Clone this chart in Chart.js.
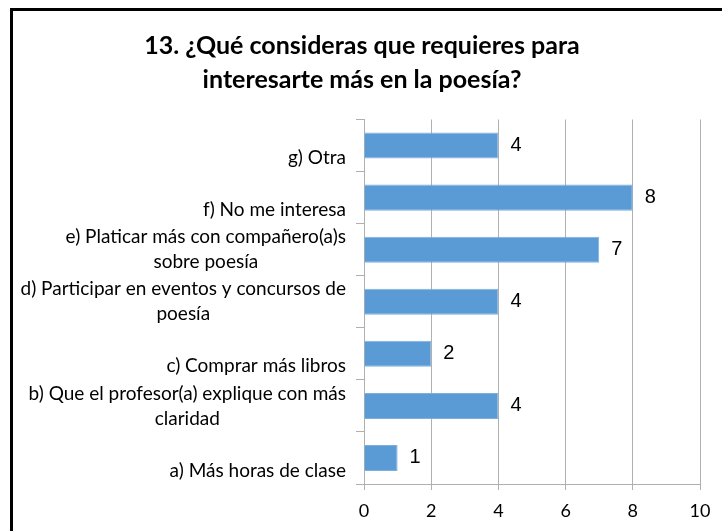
<!DOCTYPE html>
<html>
<head>
<meta charset="utf-8">
<script src="https://cdn.jsdelivr.net/npm/chart.js@4"></script>
<style>
    html, body { margin: 0; padding: 0; background: #fff; }
    #wrap { width: 722px; height: 531px; position: relative; }
</style>
</head>
<body>
<div id="wrap"><canvas id="chart" width="722" height="531"></canvas></div>
<script>
// 类别（从上到下），单行标签前加空行，让文字落在刻度下半部
const categories = [
    ['', 'g) Otra'],
    ['', 'f) No me interesa'],
    ['e) Platicar más con compañero(a)s', 'sobre poesía'],
    ['d) Participar en eventos y concursos de', 'poesía'],
    ['', 'c) Comprar más libros'],
    ['b) Que el profesor(a) explique con más', 'claridad'],
    ['', 'a) Más horas de clase']
];
const values = [4, 8, 7, 4, 2, 4, 1];
const xTicks = [0, 2, 4, 6, 8, 10];
const titleLines = ['13. ¿Qué consideras que requieres para', 'interesarte más en la poesía?'];

const LABEL_FONT = '19px Lato, sans-serif';
const LINE_H = 25;

// 外框（只有上边和左边可见）
const framePlugin = {
    id: 'frame',
    beforeDraw(chart) {
        const ctx = chart.ctx;
        ctx.save();
        ctx.fillStyle = '#fff';
        ctx.fillRect(0, 0, chart.width, chart.height);
        ctx.strokeStyle = '#000';
        ctx.lineWidth = 3;
        ctx.beginPath();
        ctx.moveTo(11.5, chart.height + 5);
        ctx.lineTo(11.5, 9.5);
        ctx.lineTo(chart.width + 5, 9.5);
        ctx.stroke();
        ctx.restore();
    }
};

// 分类标签：整块右对齐，块内每行居中（Excel 的换行方式）
const categoryLabels = {
    id: 'categoryLabels',
    afterDraw(chart) {
        const ctx = chart.ctx;
        const y = chart.scales.y;
        const right = y.right - 8 - 10;
        ctx.save();
        ctx.font = LABEL_FONT;
        ctx.fillStyle = '#000';
        ctx.textAlign = 'center';
        ctx.textBaseline = 'middle';
        categories.forEach((lines, i) => {
            const cy = y.getPixelForTick(i);
            const w = Math.max(...lines.map(s => ctx.measureText(s).width));
            const cx = right - w / 2;
            const top = cy - (lines.length - 1) * LINE_H / 2;
            lines.forEach((s, k) => ctx.fillText(s, cx, top + k * LINE_H));
        });
        ctx.restore();
    }
};

// 数值标签
const valueLabels = {
    id: 'valueLabels',
    afterDatasetsDraw(chart) {
        const ctx = chart.ctx;
        const meta = chart.getDatasetMeta(0);
        ctx.save();
        ctx.font = '20px "Liberation Sans", Arial, sans-serif';
        ctx.fillStyle = '#000';
        ctx.textAlign = 'left';
        ctx.textBaseline = 'middle';
        meta.data.forEach((bar, i) => {
            ctx.fillText(String(values[i]), bar.x + 12, bar.y);
        });
        ctx.restore();
    }
};

new Chart(document.getElementById('chart'), {
    type: 'bar',
    data: {
        labels: categories,
        datasets: [{
            data: values,
            backgroundColor: '#5b9bd5',
            borderColor: '#7fb0df',
            borderWidth: 1,
            barPercentage: 0.5,
            categoryPercentage: 1
        }]
    },
    options: {
        indexAxis: 'y',
        responsive: false,
        animation: false,
        layout: { padding: { top: 29, right: 22, left: 24, bottom: 0 } },
        plugins: {
            legend: { display: false },
            tooltip: { enabled: false },
            title: {
                display: true,
                text: titleLines,
                color: '#000',
                font: { family: 'Lato', size: 25, weight: 'bold', lineHeight: 1.35 },
                padding: { top: 0, bottom: 23 }
            }
        },
        scales: {
            x: {
                min: 0,
                max: 10,
                afterBuildTicks(axis) { axis.ticks = xTicks.map(v => ({ value: v })); },
                afterFit(axis) { axis.height = 47; },
                grid: { color: '#b0b0b0', lineWidth: 1, tickLength: 6, drawTicks: true },
                border: { color: '#b0b0b0' },
                ticks: { color: '#000', padding: 10, font: { family: 'Lato', size: 18 } }
            },
            y: {
                afterFit(axis) { axis.width = 340; },
                grid: { offset: true, drawOnChartArea: false, color: '#b0b0b0', tickLength: 8 },
                border: { color: '#b0b0b0' },
                ticks: { display: false, autoSkip: false }
            }
        }
    },
    plugins: [framePlugin, categoryLabels, valueLabels]
});
</script>
</body>
</html>
